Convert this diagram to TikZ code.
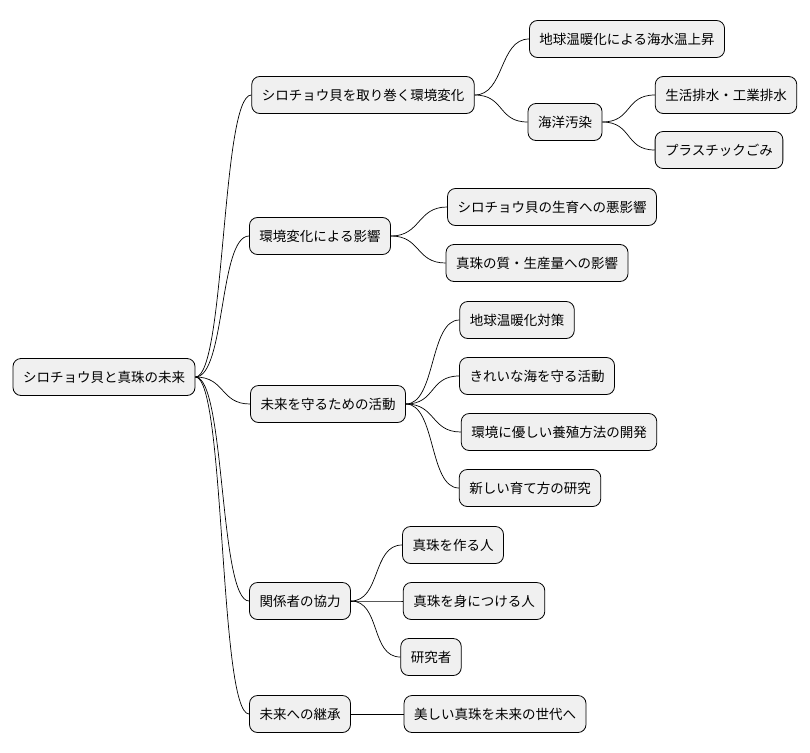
\documentclass[tikz,border=0pt]{standalone}
\usepackage{fontspec}
\usetikzlibrary{calc}
\setmainfont{Noto Sans CJK JP}
\begin{document}
\begin{tikzpicture}[x=1pt,y=-1pt,
  box/.style={draw=black,fill=black!6,rounded corners=8pt,line width=0.8pt,inner xsep=10pt,minimum height=37pt,font=\fontsize{13.5}{16}\selectfont},
  edge/.style={draw=black,line width=0.7pt}]
\useasboundingbox (0,0) rectangle (810,752);
\node[box] (r) at (104,377) {シロチョウ貝と真珠の未来};
\node[box] (a) at (363,95) {シロチョウ貝を取り巻く環境変化};
\node[box] (a1) at (627,39) {地球温暖化による海水温上昇};
\node[box] (a2) at (565,122) {海洋汚染};
\node[box] (a2a) at (726,95) {生活排水・工業排水};
\node[box] (a2b) at (719,150) {プラスチックごみ};
\node[box] (b) at (320,236) {環境変化による影響};
\node[box] (b1) at (552,207) {シロチョウ貝の生育への悪影響};
\node[box] (b2) at (537,263) {真珠の質・生産量への影響};
\node[box] (c) at (328,404) {未来を守るための活動};
\node[box] (c1) at (517,320) {地球温暖化対策};
\node[box] (c2) at (537,376) {きれいな海を守る活動};
\node[box] (c3) at (559,432) {環境に優しい養殖方法の開発};
\node[box] (c4) at (530,488) {新しい育て方の研究};
\node[box] (d) at (300,601) {関係者の協力};
\node[box] (d1) at (453,545) {真珠を作る人};
\node[box] (d2) at (474,601) {真珠を身につける人};
\node[box] (d3) at (431,657) {研究者};
\node[box] (e) at (300,714) {未来への継承};
\node[box] (e1) at (495,714) {美しい真珠を未来の世代へ};
\foreach \p/\c in {r/a,r/b,r/c,r/d,r/e,a/a1,a/a2,a2/a2a,a2/a2b,b/b1,b/b2,c/c1,c/c2,c/c3,c/c4,d/d1,d/d2,d/d3,e/e1}
  \draw[edge] (\p.east) .. controls ($(\p.east)+(30,0)$) and ($(\c.west)+(-30,0)$) .. (\c.west);
\end{tikzpicture}
\end{document}
